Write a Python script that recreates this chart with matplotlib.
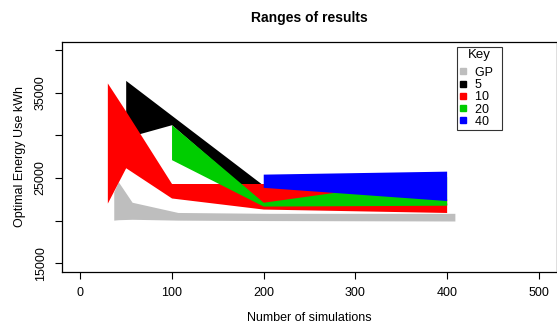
import numpy as np
import matplotlib.pyplot as plt
from matplotlib.lines import Line2D

plt.rcParams['font.family'] = ['Liberation Sans', 'DejaVu Sans']

# ranges per number of runs: x positions, upper and lower bound of each band
gp_x = [37, 42, 57, 107, 207, 409]
gp_hi = [23300, 24500, 22100, 20900, 20800, 20800]
gp_lo = [20000, 20050, 20100, 20000, 19950, 19900]

r5_x = [50, 100, 200, 400]
r5_hi = [36400, 32300, 24100, 22000]
r5_lo = [29700, 31200, 21900, 21800]

r10_x = [30, 50, 100, 200, 400]
r10_hi = [36100, 32800, 24300, 24300, 22500]
r10_lo = [22000, 26150, 22600, 21300, 20900]

r20_x = [100, 200, 400]
r20_hi = [31200, 22100, 25100]
r20_lo = [27100, 21650, 21750]

r40_x = [200, 400]
r40_hi = [25400, 25750]
r40_lo = [23850, 22300]

bands = [
    (gp_x, gp_hi, gp_lo, '#bebebe', 'GP'),
    (r5_x, r5_hi, r5_lo, 'black', '5'),
    (r10_x, r10_hi, r10_lo, '#ff0000', '10'),
    (r20_x, r20_hi, r20_lo, '#00cd00', '20'),
    (r40_x, r40_hi, r40_lo, '#0000ff', '40'),
]

fig = plt.figure(figsize=(5.57, 3.22), dpi=100)
ax = fig.add_axes([0.1113, 0.156, 0.889, 0.7145])

handles = []
for x, hi, lo, col, lab in bands:
    x = np.asarray(x)
    ax.fill(np.concatenate([x, x[::-1]]), np.concatenate([hi, lo[::-1]]),
            color=col, lw=0)
    # trailing spaces keep the key box as wide as the original
    handles.append(Line2D([], [], ls='none', marker='s', markersize=5,
                          color=col, label=lab + '  '))

ax.set_xlim(-20, 520)
ax.set_ylim(14000, 41000)
ax.set_xticks(range(0, 501, 100))
yt = list(range(15000, 40001, 5000))
ax.set_yticks(yt)
ax.set_yticklabels([str(v) if v in (15000, 25000, 35000) else '' for v in yt],
                   rotation=90, va='center')
ax.tick_params(direction='out', length=5, width=0.8, labelsize=9, pad=6)
for s in ax.spines.values():
    s.set_linewidth(0.9)

ax.set_xlabel('Number of simulations', fontsize=9, labelpad=9)
ax.set_ylabel('Optimal Energy Use kWh', fontsize=9, labelpad=6)
ax.set_title('Ranges of results', fontsize=10, fontweight='bold', pad=14)

leg = ax.legend(handles=handles, title='Key', loc='upper left',
                bbox_to_anchor=(0.798, 0.978), fontsize=9, title_fontsize=9.5,
                frameon=True, fancybox=False, edgecolor='black',
                labelspacing=0.02, handlelength=0.6, handletextpad=0.6,
                borderpad=0.2, borderaxespad=0)
leg.get_frame().set_linewidth(0.8)
leg._legend_box.sep = 4  # a bit more room under the title

fig.savefig('out.png', dpi=100)
